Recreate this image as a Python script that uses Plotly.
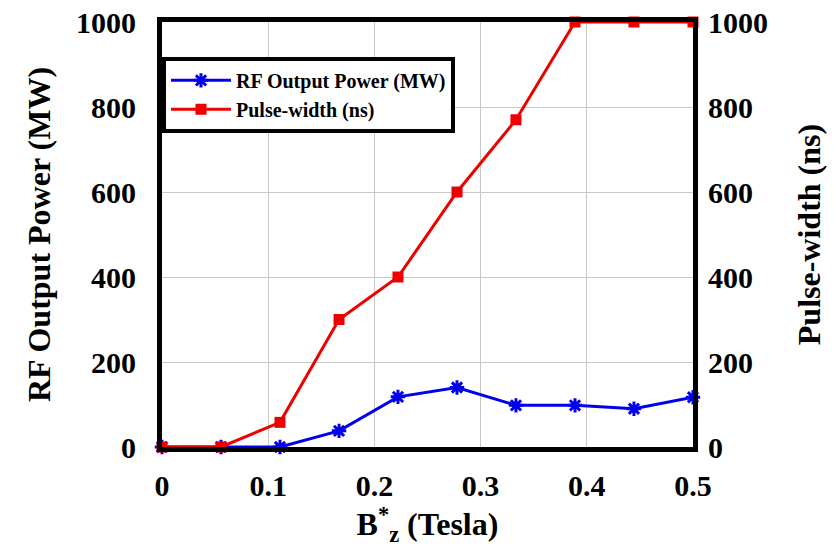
import plotly.graph_objects as go

bz = [0, 0.0556, 0.1111, 0.1667, 0.2222, 0.2778, 0.3333, 0.3889, 0.4444, 0.5]
rf_power = [0, 0, 0, 38, 118, 140, 98, 98, 90, 117]
pulse_width = [0, 0, 58, 300, 400, 600, 770, 1000, 1000, 1000]
x_ticks = [0, 0.1, 0.2, 0.3, 0.4, 0.5]
y_ticks = [0, 200, 400, 600, 800, 1000]

font_family = "Liberation Serif"

fig = go.Figure()
fig.add_trace(go.Scatter(
    x=bz, y=rf_power, name="<b>RF Output Power (MW)</b>", mode="lines+markers",
    line=dict(color="#0000ee", width=3),
    marker=dict(symbol="asterisk-open", size=12, color="#0000ee", line=dict(width=3, color="#0000ee")),
    cliponaxis=False,
))
fig.add_trace(go.Scatter(
    x=bz, y=pulse_width, name="<b>Pulse-width (ns)</b>", mode="lines+markers",
    line=dict(color="#ee0000", width=3),
    marker=dict(symbol="square", size=11, color="#ee0000"),
    yaxis="y2", cliponaxis=False,
))

tick_font = dict(family=font_family, size=30, color="black")
title_font = dict(family=font_family, size=32, color="black")

axis_common = dict(
    showline=True, linecolor="black", linewidth=5, mirror=True,
    showgrid=True, gridcolor="#c8c8c8", gridwidth=1,
    zeroline=False, ticks="", automargin=False,
    tickfont=tick_font,
)

fig.update_layout(
    width=839, height=549,
    margin=dict(l=162, r=146, t=22, b=102),
    paper_bgcolor="white", plot_bgcolor="white",
    font=dict(family=font_family, color="black"),
    showlegend=True,
    legend=dict(
        x=0.0, y=0.918, xanchor="left", yanchor="top",
        bgcolor="white", bordercolor="black", borderwidth=4,
        font=dict(family=font_family, size=20, color="black"),
        itemwidth=60,
    ),
    xaxis=dict(
        range=[0, 0.5], tickvals=x_ticks, ticktext=["<b>%g</b>" % v for v in x_ticks],
        ticklabelstandoff=8,
        title=dict(text="<b>B<sup>*</sup><sub>z</sub> (Tesla)</b>", font=title_font, standoff=0),
        **axis_common,
    ),
    yaxis=dict(
        range=[0, 1000], tickvals=y_ticks, ticktext=["<b>%d</b>" % v for v in y_ticks],
        ticklabelstandoff=15,
        title=dict(text="<b>RF Output Power (MW)</b>", font=title_font, standoff=17),
        **axis_common,
    ),
    yaxis2=dict(
        range=[0, 1000], tickvals=y_ticks, ticktext=["<b>%d</b>" % v for v in y_ticks],
        overlaying="y", side="right", showgrid=False, showline=False,
        zeroline=False, ticks="", automargin=False, ticklabelstandoff=14,
        tickfont=tick_font,
        title=dict(text="<b>Pulse-width (ns)</b>", font=title_font, standoff=30),
    ),
)

fig.write_html("out.html", config={"displayModeBar": False},
               post_script="document.body.style.margin='0px';document.body.style.overflow='hidden';")
